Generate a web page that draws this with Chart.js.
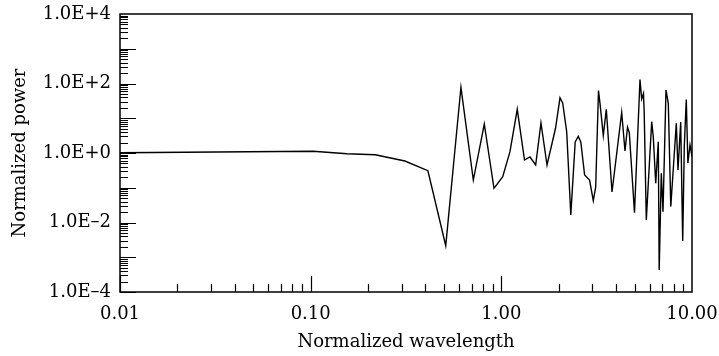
<!DOCTYPE html>
<html lang="en">
<head>
<meta charset="UTF-8">
<title>Normalized power spectrum</title>
<style>
  html,body{margin:0;padding:0;background:#fff}
  #wrap{width:719px;height:356px}
</style>
</head>
<body>
<div id="wrap"><canvas id="spec"></canvas></div>
<script src="https://cdn.jsdelivr.net/npm/chart.js@4.4.1"></script>
<script>
/* ---------- data ---------- */
const wavelength = [0.01, 0.103, 0.155, 0.218, 0.312, 0.412, 0.511, 0.614, 0.713, 0.814,
  0.915, 1.017, 1.11, 1.212, 1.323, 1.413, 1.514, 1.614, 1.736, 1.923,
  2.031, 2.098, 2.202, 2.314, 2.44, 2.533, 2.611, 2.734, 2.903, 3.036,
  3.125, 3.233, 3.292, 3.426, 3.552, 3.806, 4.278, 4.452, 4.589, 4.69,
  4.993, 5.336, 5.447, 5.567, 5.615, 5.759, 5.9, 6.147, 6.266, 6.451,
  6.656, 6.729, 6.902, 7.046, 7.305, 7.511, 7.741, 8.273, 8.444, 8.724,
  8.938, 9.112, 9.333, 9.515, 9.761, 10];
const power = [1.02, 1.12, 0.955, 0.894, 0.588, 0.309, 0.00215, 77.7, 0.167, 6.83,
  0.0964, 0.208, 1.09, 18.1, 0.629, 0.767, 0.452, 7.3, 0.452, 5.07,
  38.8, 27.5, 4.1, 0.0164, 2.07, 3.0, 2.07, 0.233, 0.167, 0.0424,
  0.105, 62.9, 26.9, 3.19, 18.1, 0.0754, 14.6, 1.14, 5.49, 3.84,
  0.0191, 130, 35.8, 51.6, 14.2, 0.0118, 0.134, 7.96, 2.89, 0.134,
  2.11, 0.00043, 0.26, 0.0205, 65, 26.9, 0.0289, 7.15, 0.324, 7.8,
  0.00294, 1.59, 34.6, 0.516, 1.7, 0.8];

const xTicks = [0.01, 0.1, 1, 10];
const xTickLabels = ['0.01', '0.10', '1.00', '10.00'];
const yTicks = [1e-4, 1e-2, 1, 1e2, 1e4];
const yTickLabels = ['1.0E\u20134', '1.0E\u20132', '1.0E+0', '1.0E+2', '1.0E+4'];

const FONT = {family: '"DejaVu Serif", serif', size: 18};

/* ---------- inward log ticks + frame ---------- */
const logTicks = {
  id: 'logTicks',
  afterDatasetsDraw(chart){
    const {ctx, chartArea: a, scales: {x, y}} = chart;
    ctx.save();
    ctx.strokeStyle = '#000';
    ctx.lineWidth = 1.2;
    ctx.beginPath();
    for (let d = -2; d < 1; d++){
      for (let m = 1; m < 10; m++){
        const px = Math.round(x.getPixelForValue(m * Math.pow(10, d))) + 0.5;
        const len = m === 1 ? 16 : 8;
        ctx.moveTo(px, a.bottom);
        ctx.lineTo(px, a.bottom - len);
      }
    }
    for (let d = -4; d < 4; d++){
      for (let m = 1; m < 10; m++){
        const py = Math.round(y.getPixelForValue(m * Math.pow(10, d))) + 0.5;
        const len = m === 1 ? 16 : 8;
        ctx.moveTo(a.left, py);
        ctx.lineTo(a.left + len, py);
      }
    }
    ctx.stroke();
    ctx.lineWidth = 1.5;
    ctx.strokeRect(a.left, a.top, a.right - a.left, a.bottom - a.top);
    ctx.restore();
  }
};

new Chart(document.getElementById('spec'), {
  type: 'line',
  data: {
    datasets: [{
      data: wavelength.map((w, i) => ({x: w, y: power[i]})),
      borderColor: '#000',
      borderWidth: 1.4,
      pointRadius: 0,
      tension: 0,
      fill: false
    }]
  },
  options: {
    responsive: true,
    maintainAspectRatio: false,
    animation: false,
    layout: {padding: {top: 14, right: 27, left: 0, bottom: 0}},
    plugins: {legend: {display: false}, tooltip: {enabled: false}},
    scales: {
      x: {
        type: 'logarithmic',
        min: 0.01, max: 10,
        afterBuildTicks: s => { s.ticks = xTicks.map(v => ({value: v})); },
        afterFit: s => { s.height = 64; s.paddingLeft = 0; s.paddingRight = 0; },
        grid: {display: false, drawTicks: false},
        border: {display: false},
        ticks: {
          color: '#000', font: FONT, padding: 12,
          autoSkip: false, maxRotation: 0,
          callback: v => xTickLabels[xTicks.indexOf(v)]
        },
        title: {display: true, text: 'Normalized wavelength', color: '#000', font: FONT,
                padding: {top: 0, bottom: 3}}
      },
      y: {
        type: 'logarithmic',
        min: 1e-4, max: 1e4,
        afterBuildTicks: s => { s.ticks = yTicks.map(v => ({value: v})); },
        afterFit: s => { s.width = 120; s.paddingTop = 0; s.paddingBottom = 0; },
        grid: {display: false, drawTicks: false},
        border: {display: false},
        ticks: {
          color: '#000', font: FONT, padding: 9,
          autoSkip: false,
          callback: v => yTickLabels[yTicks.indexOf(v)]
        },
        title: {display: true, text: 'Normalized power', color: '#000', font: FONT,
                padding: {top: 10, bottom: 0}}
      }
    }
  },
  plugins: [logTicks]
});
</script>
</body>
</html>
